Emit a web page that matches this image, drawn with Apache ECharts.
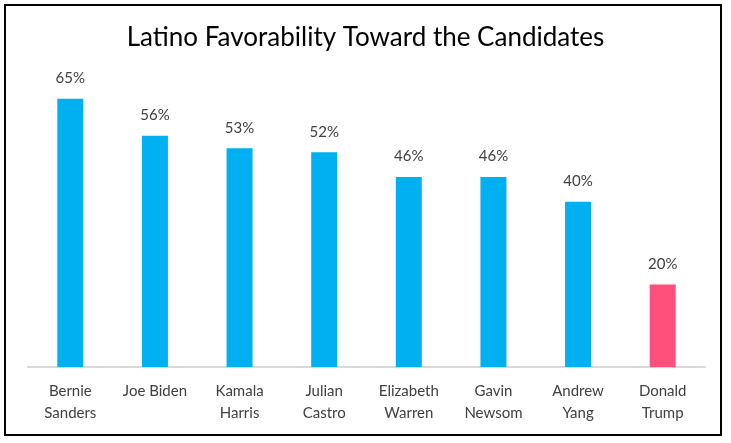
<!DOCTYPE html>
<html>
<head>
<meta charset="utf-8">
<script src="https://cdn.jsdelivr.net/npm/echarts@6/dist/echarts.min.js"></script>
<style>
html, body { margin: 0; padding: 0; background: #fff; }
#chart { width: 731px; height: 443px; }
</style>
</head>
<body>
<div id="chart"></div>
<script>
// candidates and favorability (%)
const candidates = ['Bernie\nSanders', 'Joe Biden', 'Kamala\nHarris', 'Julian\nCastro', 'Elizabeth\nWarren', 'Gavin\nNewsom', 'Andrew\nYang', 'Donald\nTrump'];
const favorability = [65, 56, 53, 52, 46, 46, 40, 20];
const barColors = ['#00B0F0', '#00B0F0', '#00B0F0', '#00B0F0', '#00B0F0', '#00B0F0', '#00B0F0', '#FF4F7B'];

const myChart = echarts.init(document.getElementById('chart'));
const option = {
    animation: false,
    textStyle: { fontFamily: 'Lato' },
    title: {
        text: 'Latino Favorability Toward the Candidates',
        left: 'center',
        top: 20,
        textStyle: { fontFamily: 'Lato', fontSize: 26, fontWeight: 'normal', color: '#000' }
    },
    graphic: [{
        type: 'rect',
        shape: { x: 5, y: 5, width: 716, height: 430 },
        style: { fill: 'none', stroke: '#000', lineWidth: 2 },
        silent: true
    }],
    grid: { left: 28, right: 26, top: 78, bottom: 76 },
    xAxis: {
        type: 'category',
        data: candidates,
        axisLine: { lineStyle: { color: '#D9D9D9', width: 2 } },
        axisTick: { show: false },
        axisLabel: {
            interval: 0,
            margin: 13,
            fontSize: 15,
            lineHeight: 22,
            color: '#404040'
        }
    },
    yAxis: {
        type: 'value',
        min: 0,
        max: 70,
        show: false,
        splitLine: { show: false }
    },
    series: [{
        type: 'bar',
        barWidth: 26,
        data: favorability.map((v, i) => ({ value: v, itemStyle: { color: barColors[i] } })),
        label: {
            show: true,
            position: 'top',
            distance: 13,
            fontSize: 15,
            color: '#404040',
            formatter: p => p.value + '%'
        }
    }]
};
myChart.setOption(option);
</script>
</body>
</html>
